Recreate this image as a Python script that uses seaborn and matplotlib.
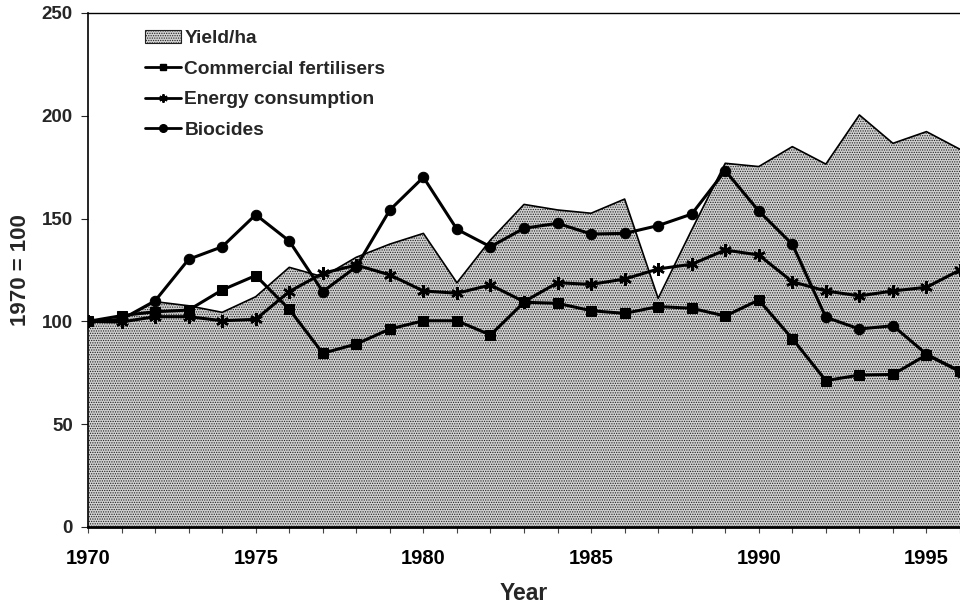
import matplotlib
matplotlib.use("Agg")
import matplotlib.pyplot as plt
import seaborn as sns
import pandas as pd
from matplotlib.patches import Patch
from matplotlib.lines import Line2D

years = list(range(1970, 1997))
yield_ha = [100, 101, 109.6, 107.6, 104.4, 112, 126.3, 121.7, 131.2, 137.6, 142.8, 118.8,
            139.6, 156.9, 154.2, 152.6, 159.5, 111.2, 144.5, 176.9, 175.3, 185, 176.5,
            200.4, 186.6, 192.3, 183.7]
fertilisers = [100, 102.8, 104.7, 105.5, 115.3, 122.3, 105.9, 84.5, 89, 96.3, 100.3, 100.3,
               93.4, 109.3, 108.8, 105.2, 103.9, 107.2, 106.4, 102.6, 110.4, 91.6, 71.2,
               73.9, 74.2, 83.7, 75.9]
energy = [100, 99.7, 102.3, 102.3, 100.3, 101, 114.5, 123.4, 127.4, 122.6, 114.8, 113.7,
          117.7, 109.6, 118.8, 118, 120.6, 125.5, 127.8, 134.7, 132.3, 119.3, 114.8, 112.4,
          114.8, 116.6, 125]
biocides = [100, 101, 110, 130.2, 136.3, 151.9, 139.1, 114.5, 126.6, 154.2, 170.1, 144.8,
            136.3, 145.3, 147.7, 142.5, 142.8, 146.6, 152.2, 173.3, 153.7, 137.5, 102, 96.3,
            97.9, 84.1, 75.5]
labels = ["Yield/ha", "Commercial fertilisers", "Energy consumption", "Biocides"]
x_ticks = [1970, 1975, 1980, 1985, 1990, 1995]
y_ticks = [0, 50, 100, 150, 200, 250]

sns.set_theme(style="ticks")
plt.rcParams['font.family'] = ['Liberation Sans', 'DejaVu Sans']
plt.rcParams['hatch.color'] = '#202020'
plt.rcParams['hatch.linewidth'] = 0.6

fig = plt.figure(figsize=(9.6, 6.07), dpi=100)
ax = fig.add_axes([0.0917, 0.1318, 0.9083, 0.8468])

df = pd.DataFrame({"year": years, "yield": yield_ha, "fert": fertilisers,
                   "energy": energy, "bio": biocides})

FILL = "#d2d2d2"
ax.fill_between(df["year"], 0, df["yield"], facecolor=FILL, hatch=".......",
                edgecolor="#202020", linewidth=0, zorder=1)
sns.lineplot(data=df, x="year", y="yield", ax=ax, color="black", linewidth=1.2, zorder=2)
sns.lineplot(data=df, x="year", y="fert", ax=ax, color="black", linewidth=2.2,
             marker="s", markersize=7, markeredgecolor="black", zorder=4)
sns.lineplot(data=df, x="year", y="energy", ax=ax, color="black", linewidth=2.2,
             marker=(6, 2, 0), markersize=9, markeredgewidth=1.8, markeredgecolor="black", zorder=3)
sns.lineplot(data=df, x="year", y="bio", ax=ax, color="black", linewidth=2.2,
             marker="o", markersize=7.5, markeredgecolor="black", zorder=5)

ax.set_xlim(1970, 1996)
ax.set_ylim(0, 250)
ax.set_xticks(x_ticks)
ax.set_xticks(years, minor=True)
ax.set_yticks(y_ticks)
ax.set_xticklabels([str(t) for t in x_ticks], fontsize=14.5, fontweight="bold")
ax.set_yticklabels([str(t) for t in y_ticks], fontsize=13.5, fontweight="bold")
ax.tick_params(axis="x", which="both", direction="inout", length=8, width=0.8, colors="#444444",
               labelcolor="black", pad=12)
ax.tick_params(axis="y", direction="out", length=5, width=0.8, pad=6)
ax.set_xlabel("Year", fontsize=16.5, fontweight="bold", labelpad=10)
ax.set_ylabel("1970 = 100", fontsize=16, fontweight="bold", labelpad=8)

for s in ["left", "bottom", "top"]:
    ax.spines[s].set_visible(True)
    ax.spines[s].set_color("black")
ax.spines["left"].set_linewidth(1.2)
ax.spines["top"].set_linewidth(1.0)
ax.spines["bottom"].set_linewidth(2.0)
ax.spines["right"].set_visible(False)

handles = [
    Patch(facecolor=FILL, hatch=".......", edgecolor="#202020", linewidth=0.8),
    Line2D([0], [0], color="black", lw=2.0, marker="s", markersize=5),
    Line2D([0], [0], color="black", lw=2.0, marker=(6, 2, 0), markersize=6, markeredgewidth=1.4),
    Line2D([0], [0], color="black", lw=2.0, marker="o", markersize=5.5),
]
leg = ax.legend(handles, labels, loc="upper left", bbox_to_anchor=(0.0654, 0.967),
                frameon=False, prop={"weight": "bold", "size": 13.8},
                handlelength=1.9, handletextpad=0.15, labelspacing=0.68, borderpad=0,
                borderaxespad=0)

fig.savefig("out.png", dpi=100)
